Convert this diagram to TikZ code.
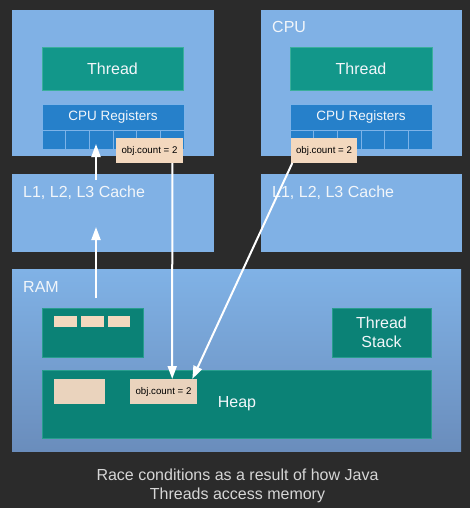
\documentclass[tikz,border=0pt]{standalone}
\usepackage{fontspec}
\setmainfont{Liberation Sans}
\usetikzlibrary{arrows.meta,calc}
\definecolor{bg}{HTML}{2B2B2B}
\definecolor{lblue}{HTML}{80B1E5}
\definecolor{ramtop}{HTML}{80B2E6}
\definecolor{rambot}{HTML}{6A8DBC}
\definecolor{teal1}{HTML}{12978A}
\definecolor{tealedge}{HTML}{3BAF9C}
\definecolor{teal2}{HTML}{0B8276}
\definecolor{regblue}{HTML}{2680CA}
\definecolor{cellline}{HTML}{7DB3E8}
\definecolor{tanA}{HTML}{F3D8BE}
\definecolor{tanB}{HTML}{EAD3BD}
\definecolor{captxt}{HTML}{D6D6D6}
\definecolor{boxtxt}{HTML}{F2F6FA}
\begin{document}
\begin{tikzpicture}[x=1pt,y=-1pt,
  rect/.style={anchor=north west,inner sep=0pt,outer sep=0pt},
  big/.style={font=\fontsize{16}{19}\selectfont,text=boxtxt},
  mid/.style={font=\fontsize{13.5}{16}\selectfont,text=boxtxt},
  small/.style={font=\fontsize{9.7}{11}\selectfont,text=black},
  arr/.style={draw=white,line width=2pt,-{Triangle[width=9pt,length=13pt]}}]
\useasboundingbox[fill=bg] (0,0) rectangle (470,508);
% CPU boxes
\node[rect,fill=lblue,minimum width=202pt,minimum height=146pt] (cpuL) at (12,10) {};
\node[rect,fill=lblue,minimum width=201pt,minimum height=146pt] (cpuR) at (261,10) {};
\node[big,anchor=base west,inner sep=0pt] (cpulbl) at (272,33) {CPU};
% threads
\node[rect,fill=teal1,draw=tealedge,line width=0.6pt,minimum width=141pt,minimum height=43pt,big] (thL) at (42,47) {Thread};
\node[rect,fill=teal1,draw=tealedge,line width=0.6pt,minimum width=142pt,minimum height=43pt,big] (thR) at (290,47) {Thread};
% registers
\node[rect,fill=regblue,draw=cellline,line width=0.6pt,minimum width=142pt,minimum height=26pt,mid] (regL) at (42,104) {CPU Registers};
\node[rect,fill=regblue,draw=cellline,line width=0.6pt,minimum width=142pt,minimum height=26pt,mid] (regR) at (290,104) {CPU Registers};
\foreach \i in {0,...,5}{
  \node[rect,fill=regblue,draw=cellline,line width=0.8pt,minimum width=23.67pt,minimum height=19pt] (cL\i) at ({42+23.67*\i},130) {};
  \node[rect,fill=regblue,draw=cellline,line width=0.8pt,minimum width=23.67pt,minimum height=19pt] (cR\i) at ({290+23.67*\i},130) {};
}
% caches
\node[rect,fill=lblue,minimum width=202pt,minimum height=78pt] (cacheL) at (12,174) {};
\node[rect,fill=lblue,minimum width=201pt,minimum height=78pt] (cacheR) at (261,174) {};
\node[big,anchor=base west,inner sep=0pt] (cacheLlbl) at (23,197) {L1, L2, L3 Cache};
\node[big,anchor=base west,inner sep=0pt] (cacheRlbl) at (272,197) {L1, L2, L3 Cache};
% RAM
\node[rect,top color=ramtop,bottom color=rambot,minimum width=449pt,minimum height=182pt] (ram) at (12,269) {};
\node[big,anchor=base west,inner sep=0pt] (ramlbl) at (23,292) {RAM};
\node[rect,fill=teal2,draw=tealedge!60!teal2,line width=0.6pt,minimum width=101pt,minimum height=49pt] (stk) at (42,308) {};
\node[rect,fill=tanA,minimum width=23pt,minimum height=11pt] (s1) at (54,316) {};
\node[rect,fill=tanA,minimum width=23pt,minimum height=11pt] (s2) at (81,316) {};
\node[rect,fill=tanA,minimum width=22pt,minimum height=11pt] (s3) at (108,316) {};
\node[rect,fill=teal2,draw=tealedge!60!teal2,line width=0.6pt,minimum width=99pt,minimum height=49pt,big,align=center] (tstack) at (332,308) {Thread\\Stack};
\node[rect,fill=teal2,draw=tealedge!60!teal2,line width=0.6pt,minimum width=389pt,minimum height=68pt] (heap) at (42,370) {};
\node[big,inner sep=0pt] (heaplbl) at (237,404) {Heap};
\node[rect,fill=tanB,minimum width=51pt,minimum height=25pt] (hobj0) at (54,379) {};
\node[rect,fill=tanB,minimum width=67pt,minimum height=25pt,small] (hobj) at (130,379) {obj.count = 2};
% obj.count in CPUs
\node[rect,fill=tanA,minimum width=67pt,minimum height=25pt,small] (objL) at (116,138) {obj.count = 2};
\node[rect,fill=tanA,minimum width=66pt,minimum height=25pt,small] (objR) at (291,138) {obj.count = 2};
% arrows
\coordinate (r1) at (96,298);
\coordinate (c1) at (96,227);
\coordinate (c2) at (96,180);
\coordinate (g1) at (96,144);
\draw[arr] (r1) -- (c1);
\draw[arr] (c2) -- (g1);
\draw[arr] ($(objL.south west)!0.84!(objL.south east)$) -- ($(hobj.north west)!0.63!(hobj.north east)$);
\draw[arr] ($(objR.south west)!0.02!(objR.south east)$) -- ($(hobj.north west)!0.93!(hobj.north east)$);
% caption
\node[font=\fontsize{16}{19}\selectfont,text=captxt,anchor=base,inner sep=0pt] (cap1) at (237.5,480) {Race conditions as a result of how Java};
\node[font=\fontsize{16}{19}\selectfont,text=captxt,anchor=base,inner sep=0pt] (cap2) at (237.5,499) {Threads access memory};
\end{tikzpicture}
\end{document}
